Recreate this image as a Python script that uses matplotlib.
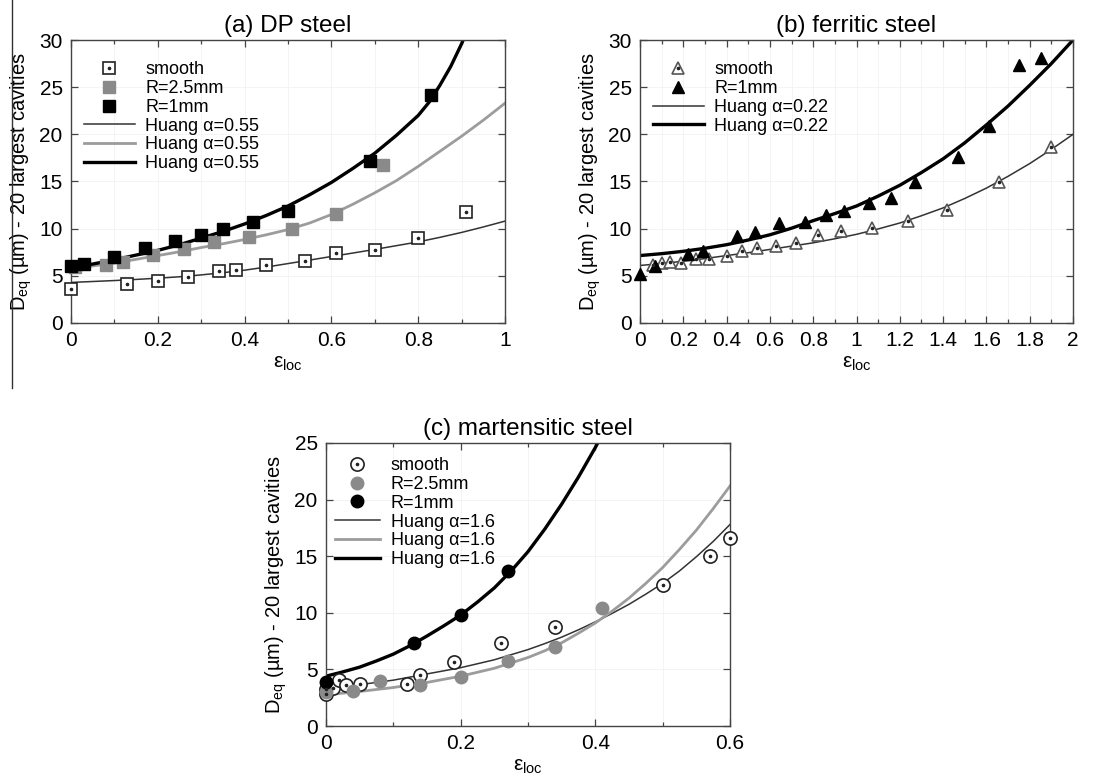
import numpy as np
import matplotlib
matplotlib.use('Agg')
import matplotlib.pyplot as plt
from matplotlib.lines import Line2D
from matplotlib.ticker import MultipleLocator, FuncFormatter

plt.rcParams['font.family'] = ['Liberation Sans', 'DejaVu Sans']
plt.rcParams['mathtext.default'] = 'regular'

# ---- (a) DP steel ----
a_smooth_x = [0.0, 0.13, 0.20, 0.27, 0.34, 0.38, 0.45, 0.54, 0.61, 0.70, 0.80, 0.91]
a_smooth_y = [3.6, 4.1, 4.5, 4.9, 5.5, 5.6, 6.2, 6.6, 7.4, 7.75, 9.0, 11.8]
a_r25_x = [0.01, 0.08, 0.12, 0.19, 0.26, 0.33, 0.41, 0.51, 0.61, 0.72]
a_r25_y = [5.9, 6.2, 6.5, 7.2, 7.8, 8.6, 9.1, 10.0, 11.6, 16.8]
a_r1_x = [0.0, 0.03, 0.10, 0.17, 0.24, 0.30, 0.35, 0.42, 0.50, 0.69, 0.83]
a_r1_y = [6.0, 6.3, 7.0, 7.9, 8.7, 9.3, 10.0, 10.7, 11.9, 17.2, 24.2]

a_fit_x = [0.0, 0.05, 0.1, 0.15, 0.2, 0.25, 0.3, 0.35, 0.4, 0.45, 0.5,
           0.55, 0.6, 0.65, 0.7, 0.75, 0.8, 0.85, 0.9, 0.95, 1.0]
a_fit_smooth = [4.3, 4.4, 4.5, 4.62, 4.75, 4.9, 5.1, 5.33, 5.6, 5.93, 6.3,
                6.67, 7.05, 7.42, 7.8, 8.2, 8.6, 9.08, 9.6, 10.18, 10.8]
a_fit_r25 = [5.8, 6.05, 6.35, 6.75, 7.15, 7.55, 8.0, 8.4, 8.85, 9.35, 9.9,
             10.6, 11.5, 12.6, 13.8, 15.1, 16.6, 18.2, 19.8, 21.5, 23.3]
a_fit_r1_x = [0.0, 0.05, 0.1, 0.15, 0.2, 0.25, 0.3, 0.35, 0.4, 0.45, 0.5, 0.55,
              0.6, 0.65, 0.7, 0.75, 0.8, 0.825, 0.85, 0.875, 0.9, 0.92]
a_fit_r1 = [5.9, 6.25, 6.7, 7.2, 7.7, 8.3, 9.0, 9.7, 10.5, 11.4, 12.4, 13.6,
            14.9, 16.4, 18.0, 19.9, 22.0, 23.4, 25.2, 27.2, 29.6, 31.8]

# ---- (b) ferritic steel ----
b_smooth_x = [0.06, 0.10, 0.14, 0.19, 0.26, 0.32, 0.40, 0.47, 0.54, 0.63, 0.72, 0.82,
              0.93, 1.07, 1.24, 1.42, 1.66, 1.90]
b_smooth_y = [6.1, 6.4, 6.5, 6.35, 6.75, 6.75, 7.15, 7.6, 7.95, 8.15, 8.45, 9.35,
              9.7, 10.05, 10.85, 11.95, 14.9, 18.65]
b_r1_x = [0.0, 0.07, 0.22, 0.29, 0.45, 0.53, 0.64, 0.76, 0.86, 0.94, 1.06, 1.16,
          1.27, 1.47, 1.61, 1.75, 1.85]
b_r1_y = [5.2, 6.0, 7.35, 7.65, 9.2, 9.65, 10.6, 10.7, 11.4, 11.9, 12.7, 13.3,
          14.9, 17.65, 20.9, 27.35, 28.05]

b_fit_x = [0.0, 0.1, 0.2, 0.3, 0.4, 0.5, 0.6, 0.7, 0.8, 0.9, 1.0,
           1.1, 1.2, 1.3, 1.4, 1.5, 1.6, 1.7, 1.8, 1.9, 2.0]
b_fit_smooth = [6.1, 6.3, 6.55, 6.83, 7.15, 7.45, 7.8, 8.15, 8.5, 8.93, 9.4,
                9.97, 10.6, 11.37, 12.2, 13.2, 14.3, 15.55, 16.9, 18.4, 20.0]
b_fit_r1 = [7.15, 7.35, 7.6, 7.92, 8.3, 8.8, 9.35, 10.05, 10.85, 11.6, 12.4,
            13.45, 14.6, 15.95, 17.4, 19.1, 21.0, 23.0, 25.2, 27.5, 30.0]

# ---- (c) martensitic steel ----
c_smooth_x = [0.0, 0.0, 0.01, 0.02, 0.03, 0.05, 0.12, 0.14, 0.19, 0.26, 0.34, 0.50, 0.57, 0.60]
c_smooth_y = [2.8, 3.3, 3.4, 4.05, 3.6, 3.7, 3.7, 4.5, 5.65, 7.35, 8.75, 12.45, 15.0, 16.6]
c_r25_x = [0.0, 0.04, 0.08, 0.14, 0.20, 0.27, 0.34, 0.41]
c_r25_y = [3.0, 3.05, 3.95, 3.6, 4.35, 5.75, 7.0, 10.45]
c_r1_x = [0.0, 0.13, 0.20, 0.27]
c_r1_y = [3.9, 7.3, 9.8, 13.7]

c_fit_x = [0.0, 0.05, 0.1, 0.15, 0.2, 0.25, 0.3, 0.325, 0.35, 0.375, 0.4,
           0.425, 0.45, 0.475, 0.5, 0.525, 0.55, 0.575, 0.6]
c_fit_smooth = [3.35, 3.65, 4.05, 4.6, 5.15, 5.85, 6.75, 7.28, 7.85, 8.5, 9.2,
                9.95, 10.75, 11.65, 12.6, 13.7, 14.95, 16.3, 17.8]
c_fit_r25 = [2.75, 3.05, 3.4, 3.85, 4.4, 5.1, 6.05, 6.65, 7.35, 8.2, 9.1,
             10.15, 11.3, 12.6, 14.0, 15.6, 17.3, 19.2, 21.2]
c_fit_r1_x = [0.0, 0.025, 0.05, 0.075, 0.1, 0.125, 0.15, 0.175, 0.2, 0.225, 0.25,
              0.275, 0.3, 0.325, 0.35, 0.375, 0.4, 0.42]
c_fit_r1 = [4.4, 4.78, 5.2, 5.75, 6.35, 7.1, 7.95, 8.85, 9.8, 10.95, 12.2,
            13.7, 15.4, 17.4, 19.6, 22.0, 24.6, 26.9]

GRAY_MK = '#8a8a8a'
GRAY_LN = '#9c9c9c'
DARK = '#222222'
YLABEL = 'D$_{eq}$ (µm) - 20 largest cavities'
XLABEL = 'ε$_{loc}$'


def style_axes(ax, xmax, ymax, title):
    ax.set_xlim(0, xmax)
    ax.set_ylim(0, ymax)
    ax.xaxis.set_major_locator(MultipleLocator(0.2))
    ax.xaxis.set_minor_locator(MultipleLocator(0.1))
    ax.yaxis.set_major_locator(MultipleLocator(5))
    ax.xaxis.set_major_formatter(FuncFormatter(lambda v, p: f'{v:g}'))
    ax.tick_params(which='both', direction='in', top=True, right=True, labelsize=15, pad=6,
                   color='#444444')
    ax.tick_params(which='major', length=5, width=0.9)
    ax.tick_params(which='minor', length=3, width=0.9)
    ax.grid(True, which='both', color='#f2f2f2', lw=0.6)
    ax.set_axisbelow(True)
    for s in ax.spines.values():
        s.set_color('#444444')
        s.set_linewidth(1.0)
    ax.set_title(title, fontsize=17.5, pad=6)
    ax.set_xlabel(XLABEL, fontsize=15, labelpad=3)
    ax.set_ylabel(YLABEL, fontsize=14.5, labelpad=4)


def open_marker(ax, x, y, marker, ms, ec):
    h1, = ax.plot(x, y, ls='none', marker=marker, ms=ms, mfc='white', mec=ec, mew=1.2,
                  clip_on=False, zorder=4)
    h2, = ax.plot(x, y, ls='none', marker='o', ms=1.6, mfc=DARK, mec=DARK,
                  clip_on=False, zorder=5)
    return (h1, h2)


def filled_marker(ax, x, y, marker, ms, c):
    h, = ax.plot(x, y, ls='none', marker=marker, ms=ms, mfc=c, mec=c, clip_on=False, zorder=4)
    return h


def key(ax, handles, labels, anchor, hlen):
    ax.legend(handles, labels, loc='upper left', bbox_to_anchor=anchor, frameon=False,
              fontsize=13, handlelength=hlen, handletextpad=0.6, labelspacing=0.1,
              borderpad=0, borderaxespad=0)


fig = plt.figure(figsize=(11.2, 7.78), dpi=100)
ax_a = fig.add_axes([71 / 1120, 1 - 323 / 778, 434 / 1120, 283 / 778])
ax_b = fig.add_axes([640 / 1120, 1 - 323 / 778, 433 / 1120, 283 / 778])
ax_c = fig.add_axes([326 / 1120, 1 - 726 / 778, 404 / 1120, 283 / 778])

# (a)
hs = open_marker(ax_a, a_smooth_x, a_smooth_y, 's', 8.5, DARK)
h25 = filled_marker(ax_a, a_r25_x, a_r25_y, 's', 8.5, GRAY_MK)
h1 = filled_marker(ax_a, a_r1_x, a_r1_y, 's', 8.5, 'black')
l1, = ax_a.plot(a_fit_x, a_fit_smooth, color='#333333', lw=1.1)
l2, = ax_a.plot(a_fit_x, a_fit_r25, color=GRAY_LN, lw=2.0)
l3, = ax_a.plot(a_fit_r1_x, a_fit_r1, color='black', lw=2.4)
style_axes(ax_a, 1, 30, '(a) DP steel')
key(ax_a, [hs, h25, h1, l1, l2, l3],
    ['smooth', 'R=2.5mm', 'R=1mm', 'Huang α=0.55', 'Huang α=0.55', 'Huang α=0.55'],
    (0.03, 0.925), 2.8)

# (b)
hs = open_marker(ax_b, b_smooth_x, b_smooth_y, '^', 9, '#555555')
h1 = filled_marker(ax_b, b_r1_x, b_r1_y, '^', 9, 'black')
l1, = ax_b.plot(b_fit_x, b_fit_smooth, color='#333333', lw=1.1)
l3, = ax_b.plot(b_fit_x, b_fit_r1, color='black', lw=2.4)
style_axes(ax_b, 2, 30, '(b) ferritic steel')
key(ax_b, [hs, h1, l1, l3],
    ['smooth', 'R=1mm', 'Huang α=0.22', 'Huang α=0.22'],
    (0.03, 0.925), 2.8)

# (c)
hs = open_marker(ax_c, c_smooth_x, c_smooth_y, 'o', 9.5, DARK)
h25 = filled_marker(ax_c, c_r25_x, c_r25_y, 'o', 9, GRAY_MK)
h1 = filled_marker(ax_c, c_r1_x, c_r1_y, 'o', 9, 'black')
l1, = ax_c.plot(c_fit_x, c_fit_smooth, color='#333333', lw=1.1)
l2, = ax_c.plot(c_fit_x, c_fit_r25, color=GRAY_LN, lw=2.0)
l3, = ax_c.plot(c_fit_r1_x, c_fit_r1, color='black', lw=2.4)
style_axes(ax_c, 0.6, 25, '(c) martensitic steel')
key(ax_c, [hs, h25, h1, l1, l2, l3],
    ['smooth', 'R=2.5mm', 'R=1mm', 'Huang α=1.6', 'Huang α=1.6', 'Huang α=1.6'],
    (0.022, 0.95), 2.5)

# thin vertical rule at the left edge of the page
fig.add_artist(Line2D([12 / 1120, 12 / 1120], [1.0, 1 - 388 / 778], color='#333333', lw=1.0))

fig.savefig('out.png', dpi=100)
